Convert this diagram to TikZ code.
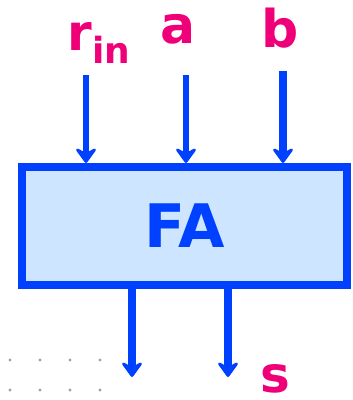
\documentclass[tikz,border=0pt]{standalone}
\usepackage{fontspec}
\setsansfont{DejaVu Sans}
\usetikzlibrary{arrows.meta}
\definecolor{pinklab}{RGB}{240,0,120}
\definecolor{wireblue}{RGB}{0,64,255}
\definecolor{boxfill}{RGB}{206,229,255}
\definecolor{dotgray}{RGB}{160,160,160}
\tikzset{
  lab/.style={text=pinklab, font=\sffamily\bfseries\fontsize{52}{60}\selectfont, inner sep=0pt, anchor=base},
  wire/.style={draw=wireblue, line width=5.5pt, -{Stealth[length=18pt 0 0,width=26pt 0 0,inset=7pt,round]}},
  thickwire/.style={wire, line width=7.5pt},
  fabox/.style={draw=wireblue, fill=boxfill, line width=8pt, minimum width=325pt, minimum height=118pt, inner sep=0pt,
    text=wireblue, font=\sffamily\bfseries\fontsize{60}{70}\selectfont},
  gdot/.style={fill=dotgray, draw=none}
}
\begin{document}
\begin{tikzpicture}[x=1pt,y=-1pt]
\useasboundingbox (0,0) rectangle (353,400);
% grid dots
\foreach \gx in {10,40,70,100}{
  \foreach \gy in {360,390}{
    \fill[gdot] (\gx,\gy) circle (1.6pt);
  }
}
\node[fabox] (box) at (184.5,226) {\raisebox{-5pt}{FA}};
% labels
\node[lab, font=\sffamily\bfseries\fontsize{50}{60}\selectfont] (lrin) at (99,50) {r\raisebox{-13pt}{\fontsize{36}{40}\selectfont in}};
\node[lab] (la) at (178,43) {a};
\node[lab] (lb) at (280,47) {b};
\node[lab, font=\sffamily\bfseries\fontsize{50}{60}\selectfont, text depth=0pt] (ls) at (275.5,392) {s};
% arrow endpoints
\coordinate (rinstart) at (86,75);
\coordinate (astart) at (186,75);
\coordinate (bstart) at (283,71);
\coordinate (cout) at (132,377);
\coordinate (sout) at (228,377);
\draw[wire] (rinstart) -- (rinstart |- box.north);
\draw[wire] (astart) -- (astart |- box.north);
\draw[thickwire] (bstart) -- (bstart |- box.north);
\draw[thickwire] ([yshift=5pt]cout |- box.south) -- (cout);
\draw[thickwire] ([yshift=5pt]sout |- box.south) -- (sout);
\end{tikzpicture}
\end{document}
